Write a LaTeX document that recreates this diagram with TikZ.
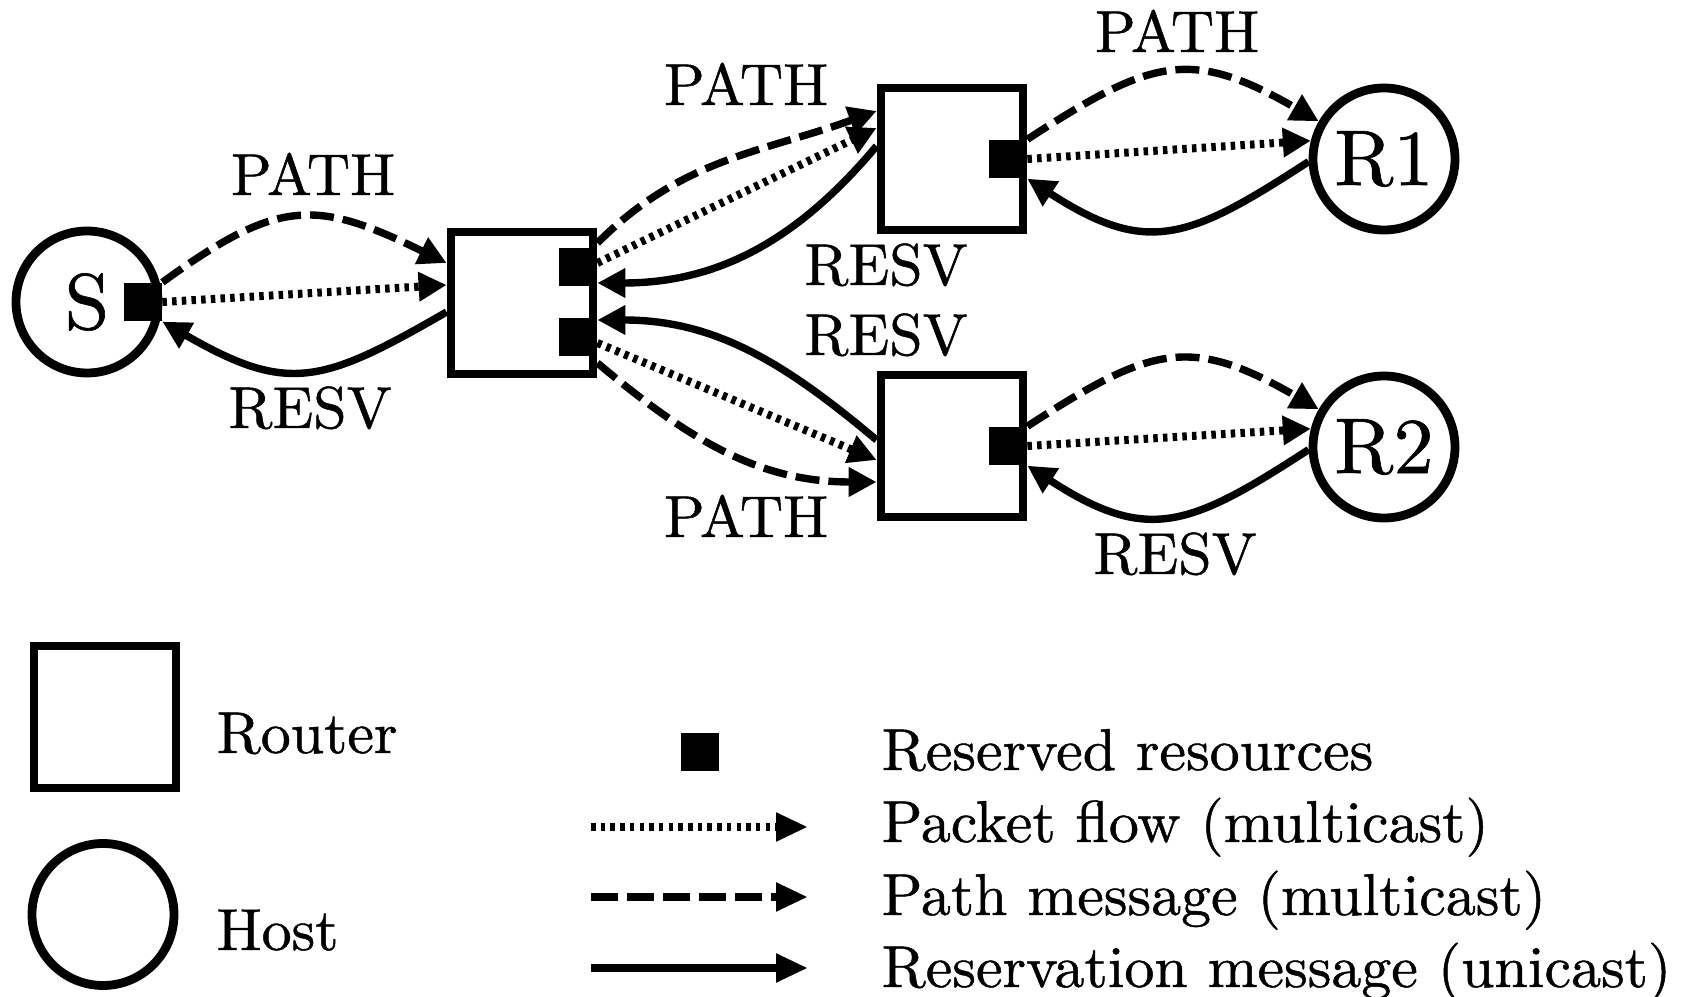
\documentclass[tikz,border=0pt]{standalone}
\usepackage{fontspec}
\setmainfont{lmroman10-regular.otf}[FakeStretch=1.015, FakeBold=0.8]
\usetikzlibrary{arrows.meta}
\tikzset{
  router/.style={draw, rectangle, line width=0.088cm, minimum size=1.42cm, inner sep=0pt},
  host/.style={draw, circle, line width=0.088cm, minimum size=1.42cm, inner sep=0pt,
    font=\fontsize{22.5}{27}\selectfont},
  resv/.style={fill, rectangle, minimum size=0.38cm, inner sep=0pt, anchor=east},
  lbl/.style={font=\fontsize{16.8}{20}\selectfont, anchor=base, inner sep=0pt},
  flow/.style={line width=0.074cm, -{Triangle[length=0.28cm,width=0.28cm]}},
  pkt/.style={flow, line width=0.08cm, dash pattern=on 0.045cm off 0.052cm},
  pathmsg/.style={flow, dash pattern=on 0.24cm off 0.09cm},
  resvmsg/.style={flow},
  keyline/.style={line width=0.088cm, -{Triangle[length=0.32cm,width=0.27cm]}},
}
\begin{document}
\begin{tikzpicture}
\useasboundingbox (0,0) rectangle (16.91,-9.97);

% network
\node[host] (S) at (0.87,-3.02) {S};
\node[router] (r1) at (5.22,-3.03) {};
\node[router] (rt) at (9.52,-1.59) {};
\node[router] (rb) at (9.52,-4.46) {};
\node[host] (h1) at (13.84,-1.59) {R1};
\node[host] (h2) at (13.84,-4.47) {R2};

% reserved resources
\node[resv] (sS) at (S.east) {};
\node[resv] (sA) at ([yshift=0.355cm]r1.east) {};
\node[resv] (sB) at ([yshift=-0.34cm]r1.east) {};
\node[resv] (sT) at (rt.east) {};
\node[resv] (sU) at (rb.east) {};

% S <-> first router
\draw[pathmsg] (sS.north east) to[out=36,in=154,looseness=1.3] ([yshift=0.40cm]r1.west);
\draw[pkt] (sS.east) -- ([yshift=0.18cm]r1.west);
\draw[resvmsg] ([yshift=-0.09cm]r1.west) to[out=210,in=-30,looseness=1.3] (sS.south east);

% first router <-> upper router
\draw[pathmsg] ([yshift=0.6cm]r1.east) to[out=45,in=200] ([yshift=0.48cm]rt.west);
\draw[pkt] ([yshift=0.40cm]r1.east) -- ([yshift=0.31cm]rt.west);
\draw[resvmsg] ([yshift=0.13cm]rt.west) to[out=230,in=0] ([yshift=0.2cm]r1.east);

% first router <-> lower router
\draw[resvmsg] ([yshift=0.06cm]rb.west) to[out=140,in=0] ([yshift=-0.17cm]r1.east);
\draw[pkt] ([yshift=-0.40cm]r1.east) -- ([yshift=-0.14cm]rb.west);
\draw[pathmsg] ([yshift=-0.6cm]r1.east) to[out=-40,in=180] ([yshift=-0.36cm]rb.west);

% upper router <-> R1
\draw[pathmsg] (sT.north east) to[out=33,in=150,looseness=1.3] (h1.150);
\draw[pkt] (sT.east) -- (h1.166);
\draw[resvmsg] (h1.182) to[out=213,in=-33,looseness=1.3] (sT.south east);

% lower router <-> R2
\draw[pathmsg] (sU.north east) to[out=33,in=150,looseness=1.3] (h2.150);
\draw[pkt] (sU.east) -- (h2.166);
\draw[resvmsg] (h2.182) to[out=213,in=-33,looseness=1.3] (sU.south east);

% message labels
\node[lbl] (l1) at (3.13,-1.95) {PATH};
\node[lbl] (l2) at (3.10,-4.28) {RESV};
\node[lbl] (l3) at (7.46,-1.05) {PATH};
\node[lbl] (l4) at (8.86,-2.85) {RESV};
\node[lbl] (l5) at (8.86,-3.55) {RESV};
\node[lbl] (l6) at (7.46,-5.37) {PATH};
\node[lbl] (l7) at (11.77,-0.52) {PATH};
\node[lbl] (l8) at (11.75,-5.74) {RESV};

% key
\node[router] (kr) at (1.05,-7.17) {};
\node[lbl, anchor=base west] (tr) at (2.16,-7.53) {Router};
\node[host] (kh) at (1.03,-9.145) {};
\node[lbl, anchor=base west] (th) at (2.16,-9.50) {Host};

\node[resv, anchor=center] (ks) at (7.00,-7.52) {};
\node[lbl, anchor=base west] (t1) at (8.81,-7.70) {Reserved resources};

\coordinate (a1) at (5.91,-8.27);
\coordinate (b1) at (8.08,-8.27);
\draw[keyline, dash pattern=on 0.045cm off 0.052cm] (a1) -- (b1);
\node[lbl, anchor=base west] (t2) at (8.81,-8.42) {Packet flow (multicast)};

\coordinate (a2) at (5.91,-8.97);
\coordinate (b2) at (8.08,-8.97);
\draw[keyline, dash pattern=on 0.27cm off 0.09cm] (a2) -- (b2);
\node[lbl, anchor=base west] (t3) at (8.81,-9.15) {Path message (multicast)};

\coordinate (a3) at (5.91,-9.68);
\coordinate (b3) at (8.08,-9.68);
\draw[keyline] (a3) -- (b3);
\node[lbl, anchor=base west] (t4) at (8.81,-9.87) {Reservation message (unicast)};
\end{tikzpicture}
\end{document}
